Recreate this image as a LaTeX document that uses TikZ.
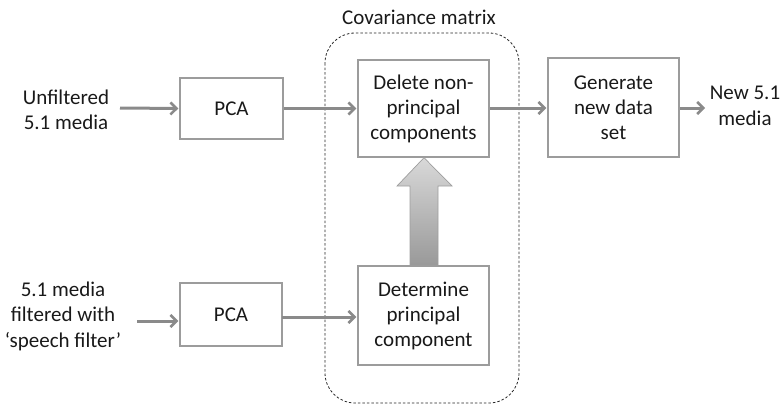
\documentclass[tikz,border=0pt]{standalone}
\usepackage{fontspec}
\setmainfont{Carlito}
\usetikzlibrary{arrows.meta,shadings}
\definecolor{boxgray}{HTML}{9C9C9C}
\definecolor{arrgray}{HTML}{8A8A8A}
\tikzset{
  procbox/.style={draw=boxgray, line width=1.4pt, fill=white, minimum width=#1, align=center, inner sep=0pt, font=\fontsize{21}{25}\selectfont, text=black!90},
  lbl/.style={align=center, inner sep=0pt, font=\fontsize{21}{25.5}\selectfont, text=black!90},
  flow/.style={draw=arrgray, line width=3pt, -{Straight Barb[length=6pt,width=12pt,line width=2.6pt]}, shorten >=1pt},
}
\begin{document}
\begin{tikzpicture}[x=1pt,y=-1pt]
\useasboundingbox (0,0) rectangle (781,404);
% covariance region
\draw[line width=0.8pt, rounded corners=30pt, black!85, dash pattern=on 2.5pt off 2pt] (325,33) rectangle (519,403);
\node[lbl] (cov) at (419,17) {Covariance matrix};
% boxes
\node[procbox=103pt, minimum height=61pt] (pca1) at (231.5,108.5) {PCA};
\node[procbox=102pt, minimum height=63pt] (pca2) at (231,314.5) {PCA};
\node[procbox=131pt, minimum height=97pt] (del) at (423.5,108.5) {Delete non-\\principal\\components};
\node[procbox=131pt, minimum height=99pt] (det) at (423.5,315.5) {Determine\\principal\\component};
\node[procbox=131pt, minimum height=99pt] (gen) at (613.5,107.5) {Generate\\new data\\set};
% labels
\node[lbl] (in1) at (66,110) {Unfiltered\\5.1 media};
\node[lbl] (in2) at (63,316) {5.1 media\\filtered with\\`speech filter'};
\node[lbl] (out) at (745,106) {New 5.1\\media};
% connectors
\coordinate (a1) at (120,108);
\coordinate (a2) at (137,321);
\coordinate (o1) at (706,108);
\coordinate (p2e) at (282,317);
\draw[flow] (a1) -- (pca1.west);
\draw[flow] (pca1.east) -- (del.west |- pca1.east);
\draw[flow] (a2) -- (pca2.west |- a2);
\draw[flow] (p2e) -- (det.west |- p2e);
\draw[flow] (del.east |- 0,108) -- (gen.west |- 0,108);
\draw[flow] (gen.east |- 0,108) -- (o1);
% big arrow
\shade[top color=black!15, bottom color=black!40, draw=black!38, line width=0.7pt]
  (det.north -| 410,0) -- (410,186) -- (397,186) -- (del.south -| 424,0) -- (452,186) -- (438,186) -- (det.north -| 438,0) -- cycle;
\end{tikzpicture}
\end{document}
